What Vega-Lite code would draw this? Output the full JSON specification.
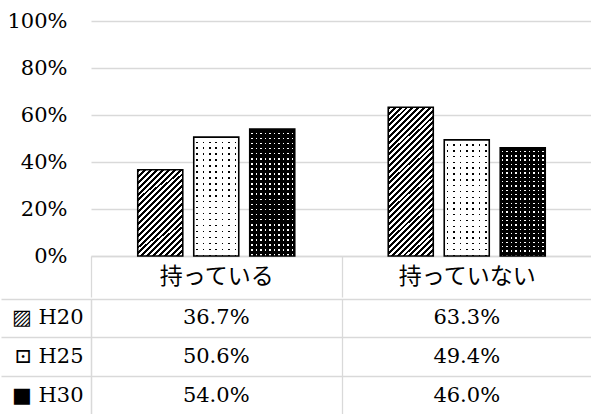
{
"$schema": "https://vega.github.io/schema/vega-lite/v6.json",
"padding": {"left": 0, "right": 0, "top": 10, "bottom": 0},
"spacing": 0,
"config": {"view": {"stroke": null}, "axis": {"labelColor": "#000"}},
"data": {"values": [
 {"cat": "持っている", "series": "H20", "value": 0.367},
 {"cat": "持っている", "series": "H25", "value": 0.506},
 {"cat": "持っている", "series": "H30", "value": 0.540},
 {"cat": "持っていない", "series": "H20", "value": 0.633},
 {"cat": "持っていない", "series": "H25", "value": 0.494},
 {"cat": "持っていない", "series": "H30", "value": 0.460}
]},
"vconcat": [
 {
  "width": 501,
  "height": 235,
  "encoding": {
   "x": {"field": "cat", "type": "nominal", "sort": ["持っている", "持っていない"],
         "scale": {"paddingInner": 0, "paddingOuter": 0},
         "axis": {"title": null, "orient": "bottom", "labelAngle": 0, "domainColor": "#d9d9d9", "domainWidth": 1.3,
                  "ticks": true, "tickBand": "extent", "tickSize": 41, "tickColor": "#d9d9d9", "tickWidth": 1.3,
                  "labelFont": "Noto Sans CJK JP", "labelFontSize": 23, "labelColor": "#000",
                  "labelBaseline": "middle", "labelPadding": -20.5, "grid": false}},
   "xOffset": {"field": "series", "type": "nominal", "sort": ["H20", "H25", "H30"],
               "scale": {"paddingInner": 0.196, "paddingOuter": 0.835}},
   "y": {"field": "value", "type": "quantitative", "scale": {"domain": [0, 1]},
         "axis": {"title": null, "format": ".0%", "values": [0, 0.2, 0.4, 0.6, 0.8, 1], "domain": false, "ticks": false,
                  "grid": true, "gridColor": "#d9d9d9", "gridWidth": 1.3,
                  "labelFont": "DejaVu Serif", "labelFontSize": 21, "labelColor": "#000", "labelPadding": 24}}
  },
  "layer": [
   {
    "mark": {"type": "bar"},
    "encoding": {
     "fill": {
      "condition": [
       {"test": "datum.series==='H20' && datum.cat==='持っている'", "value": {"gradient": "linear", "x1": 0, "y1": 0, "x2": 0.6187, "y2": 1.197, "stops": [
        {"offset":0,"color":"#000"},{"offset":0.0225,"color":"#000"},
        {"offset":0.0225,"color":"#fff"},{"offset":0.045,"color":"#fff"},
        {"offset":0.045,"color":"#000"},{"offset":0.0675,"color":"#000"},
        {"offset":0.0675,"color":"#fff"},{"offset":0.09,"color":"#fff"},
        {"offset":0.09,"color":"#000"},{"offset":0.1125,"color":"#000"},
        {"offset":0.1125,"color":"#fff"},{"offset":0.135,"color":"#fff"},
        {"offset":0.135,"color":"#000"},{"offset":0.1575,"color":"#000"},
        {"offset":0.1575,"color":"#fff"},{"offset":0.18,"color":"#fff"},
        {"offset":0.18,"color":"#000"},{"offset":0.2025,"color":"#000"},
        {"offset":0.2025,"color":"#fff"},{"offset":0.225,"color":"#fff"},
        {"offset":0.225,"color":"#000"},{"offset":0.2475,"color":"#000"},
        {"offset":0.2475,"color":"#fff"},{"offset":0.27,"color":"#fff"},
        {"offset":0.27,"color":"#000"},{"offset":0.2925,"color":"#000"},
        {"offset":0.2925,"color":"#fff"},{"offset":0.315,"color":"#fff"},
        {"offset":0.315,"color":"#000"},{"offset":0.3375,"color":"#000"},
        {"offset":0.3375,"color":"#fff"},{"offset":0.36,"color":"#fff"},
        {"offset":0.36,"color":"#000"},{"offset":0.3825,"color":"#000"},
        {"offset":0.3825,"color":"#fff"},{"offset":0.405,"color":"#fff"},
        {"offset":0.405,"color":"#000"},{"offset":0.4275,"color":"#000"},
        {"offset":0.4275,"color":"#fff"},{"offset":0.45,"color":"#fff"},
        {"offset":0.45,"color":"#000"},{"offset":0.4725,"color":"#000"},
        {"offset":0.4725,"color":"#fff"},{"offset":0.495,"color":"#fff"},
        {"offset":0.495,"color":"#000"},{"offset":0.5175,"color":"#000"},
        {"offset":0.5175,"color":"#fff"},{"offset":0.54,"color":"#fff"},
        {"offset":0.54,"color":"#000"},{"offset":0.5625,"color":"#000"},
        {"offset":0.5625,"color":"#fff"},{"offset":0.585,"color":"#fff"},
        {"offset":0.585,"color":"#000"},{"offset":0.6075,"color":"#000"},
        {"offset":0.6075,"color":"#fff"},{"offset":0.63,"color":"#fff"},
        {"offset":0.63,"color":"#000"},{"offset":0.6525,"color":"#000"},
        {"offset":0.6525,"color":"#fff"},{"offset":0.675,"color":"#fff"},
        {"offset":0.675,"color":"#000"},{"offset":0.6975,"color":"#000"},
        {"offset":0.6975,"color":"#fff"},{"offset":0.72,"color":"#fff"},
        {"offset":0.72,"color":"#000"},{"offset":0.7425,"color":"#000"},
        {"offset":0.7425,"color":"#fff"},{"offset":0.765,"color":"#fff"},
        {"offset":0.765,"color":"#000"},{"offset":0.7875,"color":"#000"},
        {"offset":0.7875,"color":"#fff"},{"offset":0.81,"color":"#fff"},
        {"offset":0.81,"color":"#000"},{"offset":0.8325,"color":"#000"},
        {"offset":0.8325,"color":"#fff"},{"offset":0.855,"color":"#fff"},
        {"offset":0.855,"color":"#000"},{"offset":0.8775,"color":"#000"},
        {"offset":0.8775,"color":"#fff"},{"offset":0.9,"color":"#fff"},
        {"offset":0.9,"color":"#000"},{"offset":0.9225,"color":"#000"},
        {"offset":0.9225,"color":"#fff"},{"offset":0.945,"color":"#fff"},
        {"offset":0.945,"color":"#000"},{"offset":0.9675,"color":"#000"},
        {"offset":0.9675,"color":"#fff"},{"offset":0.99,"color":"#fff"},
        {"offset":0.99,"color":"#000"},{"offset":1,"color":"#000"}]}},
       {"test": "datum.series==='H20'", "value": {"gradient": "linear", "x1": 0, "y1": 0, "x2": 0.3574, "y2": 1.1926, "stops": [
        {"offset":0,"color":"#000"},{"offset":0.015,"color":"#000"},
        {"offset":0.015,"color":"#fff"},{"offset":0.03,"color":"#fff"},
        {"offset":0.03,"color":"#000"},{"offset":0.045,"color":"#000"},
        {"offset":0.045,"color":"#fff"},{"offset":0.06,"color":"#fff"},
        {"offset":0.06,"color":"#000"},{"offset":0.075,"color":"#000"},
        {"offset":0.075,"color":"#fff"},{"offset":0.09,"color":"#fff"},
        {"offset":0.09,"color":"#000"},{"offset":0.105,"color":"#000"},
        {"offset":0.105,"color":"#fff"},{"offset":0.12,"color":"#fff"},
        {"offset":0.12,"color":"#000"},{"offset":0.135,"color":"#000"},
        {"offset":0.135,"color":"#fff"},{"offset":0.15,"color":"#fff"},
        {"offset":0.15,"color":"#000"},{"offset":0.165,"color":"#000"},
        {"offset":0.165,"color":"#fff"},{"offset":0.18,"color":"#fff"},
        {"offset":0.18,"color":"#000"},{"offset":0.195,"color":"#000"},
        {"offset":0.195,"color":"#fff"},{"offset":0.21,"color":"#fff"},
        {"offset":0.21,"color":"#000"},{"offset":0.225,"color":"#000"},
        {"offset":0.225,"color":"#fff"},{"offset":0.24,"color":"#fff"},
        {"offset":0.24,"color":"#000"},{"offset":0.255,"color":"#000"},
        {"offset":0.255,"color":"#fff"},{"offset":0.27,"color":"#fff"},
        {"offset":0.27,"color":"#000"},{"offset":0.285,"color":"#000"},
        {"offset":0.285,"color":"#fff"},{"offset":0.3,"color":"#fff"},
        {"offset":0.3,"color":"#000"},{"offset":0.315,"color":"#000"},
        {"offset":0.315,"color":"#fff"},{"offset":0.33,"color":"#fff"},
        {"offset":0.33,"color":"#000"},{"offset":0.345,"color":"#000"},
        {"offset":0.345,"color":"#fff"},{"offset":0.36,"color":"#fff"},
        {"offset":0.36,"color":"#000"},{"offset":0.375,"color":"#000"},
        {"offset":0.375,"color":"#fff"},{"offset":0.39,"color":"#fff"},
        {"offset":0.39,"color":"#000"},{"offset":0.405,"color":"#000"},
        {"offset":0.405,"color":"#fff"},{"offset":0.42,"color":"#fff"},
        {"offset":0.42,"color":"#000"},{"offset":0.435,"color":"#000"},
        {"offset":0.435,"color":"#fff"},{"offset":0.45,"color":"#fff"},
        {"offset":0.45,"color":"#000"},{"offset":0.465,"color":"#000"},
        {"offset":0.465,"color":"#fff"},{"offset":0.48,"color":"#fff"},
        {"offset":0.48,"color":"#000"},{"offset":0.495,"color":"#000"},
        {"offset":0.495,"color":"#fff"},{"offset":0.51,"color":"#fff"},
        {"offset":0.51,"color":"#000"},{"offset":0.525,"color":"#000"},
        {"offset":0.525,"color":"#fff"},{"offset":0.54,"color":"#fff"},
        {"offset":0.54,"color":"#000"},{"offset":0.555,"color":"#000"},
        {"offset":0.555,"color":"#fff"},{"offset":0.57,"color":"#fff"},
        {"offset":0.57,"color":"#000"},{"offset":0.585,"color":"#000"},
        {"offset":0.585,"color":"#fff"},{"offset":0.6,"color":"#fff"},
        {"offset":0.6,"color":"#000"},{"offset":0.615,"color":"#000"},
        {"offset":0.615,"color":"#fff"},{"offset":0.63,"color":"#fff"},
        {"offset":0.63,"color":"#000"},{"offset":0.645,"color":"#000"},
        {"offset":0.645,"color":"#fff"},{"offset":0.66,"color":"#fff"},
        {"offset":0.66,"color":"#000"},{"offset":0.675,"color":"#000"},
        {"offset":0.675,"color":"#fff"},{"offset":0.69,"color":"#fff"},
        {"offset":0.69,"color":"#000"},{"offset":0.705,"color":"#000"},
        {"offset":0.705,"color":"#fff"},{"offset":0.72,"color":"#fff"},
        {"offset":0.72,"color":"#000"},{"offset":0.735,"color":"#000"},
        {"offset":0.735,"color":"#fff"},{"offset":0.75,"color":"#fff"},
        {"offset":0.75,"color":"#000"},{"offset":0.765,"color":"#000"},
        {"offset":0.765,"color":"#fff"},{"offset":0.78,"color":"#fff"},
        {"offset":0.78,"color":"#000"},{"offset":0.795,"color":"#000"},
        {"offset":0.795,"color":"#fff"},{"offset":0.81,"color":"#fff"},
        {"offset":0.81,"color":"#000"},{"offset":0.825,"color":"#000"},
        {"offset":0.825,"color":"#fff"},{"offset":0.84,"color":"#fff"},
        {"offset":0.84,"color":"#000"},{"offset":0.855,"color":"#000"},
        {"offset":0.855,"color":"#fff"},{"offset":0.87,"color":"#fff"},
        {"offset":0.87,"color":"#000"},{"offset":0.885,"color":"#000"},
        {"offset":0.885,"color":"#fff"},{"offset":0.9,"color":"#fff"},
        {"offset":0.9,"color":"#000"},{"offset":0.915,"color":"#000"},
        {"offset":0.915,"color":"#fff"},{"offset":0.93,"color":"#fff"},
        {"offset":0.93,"color":"#000"},{"offset":0.945,"color":"#000"},
        {"offset":0.945,"color":"#fff"},{"offset":0.96,"color":"#fff"},
        {"offset":0.96,"color":"#000"},{"offset":0.975,"color":"#000"},
        {"offset":0.975,"color":"#fff"},{"offset":0.99,"color":"#fff"},
        {"offset":0.99,"color":"#000"},{"offset":1,"color":"#000"}]}},
       {"test": "datum.series==='H25'", "value": {"gradient": "linear", "x1": 0, "y1": 0, "x2": 0, "y2": 1, "stops": [
        {"offset":0,"color":"#fff"},
        {"offset":0.0375,"color":"#fff"},{"offset":0.0375,"color":"#000"},{"offset":0.05,"color":"#000"},{"offset":0.05,"color":"#fff"},
        {"offset":0.0875,"color":"#fff"},{"offset":0.0875,"color":"#000"},{"offset":0.1,"color":"#000"},{"offset":0.1,"color":"#fff"},
        {"offset":0.1375,"color":"#fff"},{"offset":0.1375,"color":"#000"},{"offset":0.15,"color":"#000"},{"offset":0.15,"color":"#fff"},
        {"offset":0.1875,"color":"#fff"},{"offset":0.1875,"color":"#000"},{"offset":0.2,"color":"#000"},{"offset":0.2,"color":"#fff"},
        {"offset":0.2375,"color":"#fff"},{"offset":0.2375,"color":"#000"},{"offset":0.25,"color":"#000"},{"offset":0.25,"color":"#fff"},
        {"offset":0.2875,"color":"#fff"},{"offset":0.2875,"color":"#000"},{"offset":0.3,"color":"#000"},{"offset":0.3,"color":"#fff"},
        {"offset":0.3375,"color":"#fff"},{"offset":0.3375,"color":"#000"},{"offset":0.35,"color":"#000"},{"offset":0.35,"color":"#fff"},
        {"offset":0.3875,"color":"#fff"},{"offset":0.3875,"color":"#000"},{"offset":0.4,"color":"#000"},{"offset":0.4,"color":"#fff"},
        {"offset":0.4375,"color":"#fff"},{"offset":0.4375,"color":"#000"},{"offset":0.45,"color":"#000"},{"offset":0.45,"color":"#fff"},
        {"offset":0.4875,"color":"#fff"},{"offset":0.4875,"color":"#000"},{"offset":0.5,"color":"#000"},{"offset":0.5,"color":"#fff"},
        {"offset":0.5375,"color":"#fff"},{"offset":0.5375,"color":"#000"},{"offset":0.55,"color":"#000"},{"offset":0.55,"color":"#fff"},
        {"offset":0.5875,"color":"#fff"},{"offset":0.5875,"color":"#000"},{"offset":0.6,"color":"#000"},{"offset":0.6,"color":"#fff"},
        {"offset":0.6375,"color":"#fff"},{"offset":0.6375,"color":"#000"},{"offset":0.65,"color":"#000"},{"offset":0.65,"color":"#fff"},
        {"offset":0.6875,"color":"#fff"},{"offset":0.6875,"color":"#000"},{"offset":0.7,"color":"#000"},{"offset":0.7,"color":"#fff"},
        {"offset":0.7375,"color":"#fff"},{"offset":0.7375,"color":"#000"},{"offset":0.75,"color":"#000"},{"offset":0.75,"color":"#fff"},
        {"offset":0.7875,"color":"#fff"},{"offset":0.7875,"color":"#000"},{"offset":0.8,"color":"#000"},{"offset":0.8,"color":"#fff"},
        {"offset":0.8375,"color":"#fff"},{"offset":0.8375,"color":"#000"},{"offset":0.85,"color":"#000"},{"offset":0.85,"color":"#fff"},
        {"offset":0.8875,"color":"#fff"},{"offset":0.8875,"color":"#000"},{"offset":0.9,"color":"#000"},{"offset":0.9,"color":"#fff"},
        {"offset":0.9375,"color":"#fff"},{"offset":0.9375,"color":"#000"},{"offset":0.95,"color":"#000"},{"offset":0.95,"color":"#fff"},
        {"offset":0.9875,"color":"#fff"},{"offset":0.9875,"color":"#000"},{"offset":1,"color":"#000"}]}}
      ],
      "value": {"gradient": "linear", "x1": 0, "y1": 0, "x2": 0, "y2": 1, "stops": [
        {"offset":0,"color":"#000"},
        {"offset":0.027,"color":"#000"},{"offset":0.027,"color":"#fff"},{"offset":0.04,"color":"#fff"},{"offset":0.04,"color":"#000"},
        {"offset":0.067,"color":"#000"},{"offset":0.067,"color":"#fff"},{"offset":0.08,"color":"#fff"},{"offset":0.08,"color":"#000"},
        {"offset":0.107,"color":"#000"},{"offset":0.107,"color":"#fff"},{"offset":0.12,"color":"#fff"},{"offset":0.12,"color":"#000"},
        {"offset":0.147,"color":"#000"},{"offset":0.147,"color":"#fff"},{"offset":0.16,"color":"#fff"},{"offset":0.16,"color":"#000"},
        {"offset":0.187,"color":"#000"},{"offset":0.187,"color":"#fff"},{"offset":0.2,"color":"#fff"},{"offset":0.2,"color":"#000"},
        {"offset":0.227,"color":"#000"},{"offset":0.227,"color":"#fff"},{"offset":0.24,"color":"#fff"},{"offset":0.24,"color":"#000"},
        {"offset":0.267,"color":"#000"},{"offset":0.267,"color":"#fff"},{"offset":0.28,"color":"#fff"},{"offset":0.28,"color":"#000"},
        {"offset":0.307,"color":"#000"},{"offset":0.307,"color":"#fff"},{"offset":0.32,"color":"#fff"},{"offset":0.32,"color":"#000"},
        {"offset":0.347,"color":"#000"},{"offset":0.347,"color":"#fff"},{"offset":0.36,"color":"#fff"},{"offset":0.36,"color":"#000"},
        {"offset":0.387,"color":"#000"},{"offset":0.387,"color":"#fff"},{"offset":0.4,"color":"#fff"},{"offset":0.4,"color":"#000"},
        {"offset":0.427,"color":"#000"},{"offset":0.427,"color":"#fff"},{"offset":0.44,"color":"#fff"},{"offset":0.44,"color":"#000"},
        {"offset":0.467,"color":"#000"},{"offset":0.467,"color":"#fff"},{"offset":0.48,"color":"#fff"},{"offset":0.48,"color":"#000"},
        {"offset":0.507,"color":"#000"},{"offset":0.507,"color":"#fff"},{"offset":0.52,"color":"#fff"},{"offset":0.52,"color":"#000"},
        {"offset":0.547,"color":"#000"},{"offset":0.547,"color":"#fff"},{"offset":0.56,"color":"#fff"},{"offset":0.56,"color":"#000"},
        {"offset":0.587,"color":"#000"},{"offset":0.587,"color":"#fff"},{"offset":0.6,"color":"#fff"},{"offset":0.6,"color":"#000"},
        {"offset":0.627,"color":"#000"},{"offset":0.627,"color":"#fff"},{"offset":0.64,"color":"#fff"},{"offset":0.64,"color":"#000"},
        {"offset":0.667,"color":"#000"},{"offset":0.667,"color":"#fff"},{"offset":0.68,"color":"#fff"},{"offset":0.68,"color":"#000"},
        {"offset":0.707,"color":"#000"},{"offset":0.707,"color":"#fff"},{"offset":0.72,"color":"#fff"},{"offset":0.72,"color":"#000"},
        {"offset":0.747,"color":"#000"},{"offset":0.747,"color":"#fff"},{"offset":0.76,"color":"#fff"},{"offset":0.76,"color":"#000"},
        {"offset":0.787,"color":"#000"},{"offset":0.787,"color":"#fff"},{"offset":0.8,"color":"#fff"},{"offset":0.8,"color":"#000"},
        {"offset":0.827,"color":"#000"},{"offset":0.827,"color":"#fff"},{"offset":0.84,"color":"#fff"},{"offset":0.84,"color":"#000"},
        {"offset":0.867,"color":"#000"},{"offset":0.867,"color":"#fff"},{"offset":0.88,"color":"#fff"},{"offset":0.88,"color":"#000"},
        {"offset":0.907,"color":"#000"},{"offset":0.907,"color":"#fff"},{"offset":0.92,"color":"#fff"},{"offset":0.92,"color":"#000"},
        {"offset":0.947,"color":"#000"},{"offset":0.947,"color":"#fff"},{"offset":0.96,"color":"#fff"},{"offset":0.96,"color":"#000"},
        {"offset":0.987,"color":"#000"},{"offset":0.987,"color":"#fff"},{"offset":1,"color":"#fff"}]}
     }
    }
   },
   {
    "mark": {"type": "bar", "stroke": "#000", "strokeWidth": 1.6},
    "encoding": {
     "fill": {
      "condition": [
       {"test": "datum.series==='H20'", "value": "transparent"},
       {"test": "datum.series==='H25'", "value": {"gradient": "linear", "x1": 0, "y1": 0, "x2": 1, "y2": 0, "stops": [
        {"offset":0,"color":"#fff"},
        {"offset":0.0546,"color":"#fff"},{"offset":0.0546,"color":"rgba(255,255,255,0)"},{"offset":0.0882,"color":"rgba(255,255,255,0)"},{"offset":0.0882,"color":"#fff"},
        {"offset":0.1975,"color":"#fff"},{"offset":0.1975,"color":"rgba(255,255,255,0)"},{"offset":0.2311,"color":"rgba(255,255,255,0)"},{"offset":0.2311,"color":"#fff"},
        {"offset":0.3403,"color":"#fff"},{"offset":0.3403,"color":"rgba(255,255,255,0)"},{"offset":0.3739,"color":"rgba(255,255,255,0)"},{"offset":0.3739,"color":"#fff"},
        {"offset":0.4832,"color":"#fff"},{"offset":0.4832,"color":"rgba(255,255,255,0)"},{"offset":0.5168,"color":"rgba(255,255,255,0)"},{"offset":0.5168,"color":"#fff"},
        {"offset":0.626,"color":"#fff"},{"offset":0.626,"color":"rgba(255,255,255,0)"},{"offset":0.6596,"color":"rgba(255,255,255,0)"},{"offset":0.6596,"color":"#fff"},
        {"offset":0.7689,"color":"#fff"},{"offset":0.7689,"color":"rgba(255,255,255,0)"},{"offset":0.8025,"color":"rgba(255,255,255,0)"},{"offset":0.8025,"color":"#fff"},
        {"offset":0.9117,"color":"#fff"},{"offset":0.9117,"color":"rgba(255,255,255,0)"},{"offset":0.9453,"color":"rgba(255,255,255,0)"},{"offset":0.9453,"color":"#fff"},
        {"offset":1,"color":"#fff"}]}}
      ],
      "value": {"gradient": "linear", "x1": 0, "y1": 0, "x2": 1, "y2": 0, "stops": [
        {"offset":0,"color":"#000"},
        {"offset":0.033,"color":"#000"},{"offset":0.033,"color":"rgba(0,0,0,0)"},{"offset":0.067,"color":"rgba(0,0,0,0)"},{"offset":0.067,"color":"#000"},
        {"offset":0.133,"color":"#000"},{"offset":0.133,"color":"rgba(0,0,0,0)"},{"offset":0.167,"color":"rgba(0,0,0,0)"},{"offset":0.167,"color":"#000"},
        {"offset":0.233,"color":"#000"},{"offset":0.233,"color":"rgba(0,0,0,0)"},{"offset":0.267,"color":"rgba(0,0,0,0)"},{"offset":0.267,"color":"#000"},
        {"offset":0.333,"color":"#000"},{"offset":0.333,"color":"rgba(0,0,0,0)"},{"offset":0.367,"color":"rgba(0,0,0,0)"},{"offset":0.367,"color":"#000"},
        {"offset":0.433,"color":"#000"},{"offset":0.433,"color":"rgba(0,0,0,0)"},{"offset":0.467,"color":"rgba(0,0,0,0)"},{"offset":0.467,"color":"#000"},
        {"offset":0.533,"color":"#000"},{"offset":0.533,"color":"rgba(0,0,0,0)"},{"offset":0.567,"color":"rgba(0,0,0,0)"},{"offset":0.567,"color":"#000"},
        {"offset":0.633,"color":"#000"},{"offset":0.633,"color":"rgba(0,0,0,0)"},{"offset":0.667,"color":"rgba(0,0,0,0)"},{"offset":0.667,"color":"#000"},
        {"offset":0.733,"color":"#000"},{"offset":0.733,"color":"rgba(0,0,0,0)"},{"offset":0.767,"color":"rgba(0,0,0,0)"},{"offset":0.767,"color":"#000"},
        {"offset":0.833,"color":"#000"},{"offset":0.833,"color":"rgba(0,0,0,0)"},{"offset":0.867,"color":"rgba(0,0,0,0)"},{"offset":0.867,"color":"#000"},
        {"offset":0.933,"color":"#000"},{"offset":0.933,"color":"rgba(0,0,0,0)"},{"offset":0.967,"color":"rgba(0,0,0,0)"},{"offset":0.967,"color":"#000"},
        {"offset":1,"color":"#000"}]}
     }
    }
   }
  ]
 },
 {
  "width": 501,
  "height": 116,
  "mark": {"type": "text", "font": "DejaVu Serif", "fontSize": 21, "fill": "#000"},
  "encoding": {
   "x": {"field": "cat", "type": "nominal", "sort": ["持っている", "持っていない"],
         "scale": {"type": "band", "paddingInner": 0, "paddingOuter": 0},
         "axis": {"title": null, "labels": false, "ticks": false, "domain": false, "grid": true, "tickBand": "extent",
                  "gridColor": "#d9d9d9", "gridWidth": 1.3}},
   "y": {"field": "series", "type": "nominal", "sort": ["H20", "H25", "H30"],
         "scale": {"type": "band", "paddingInner": 0, "paddingOuter": 0},
         "axis": {"title": null, "orient": "left", "domainColor": "#d9d9d9", "domainWidth": 1.3,
                  "ticks": true, "bandPosition": 0, "tickExtra": false, "tickSize": 90, "tickColor": "#d9d9d9", "tickWidth": 1.3,
                  "grid": true, "gridColor": "#d9d9d9", "gridWidth": 1.3,
                  "labelExpr": "datum.value==='H20' ? '▨ H20' : datum.value==='H25' ? '⊡ H25' : '■ H30'",
                  "labelFont": "DejaVu Serif, DejaVu Sans", "labelFontSize": 21, "labelColor": "#000", "labelPadding": -82}},
   "text": {"field": "value", "type": "quantitative", "format": ".1%"}
  }
 }
]
}
